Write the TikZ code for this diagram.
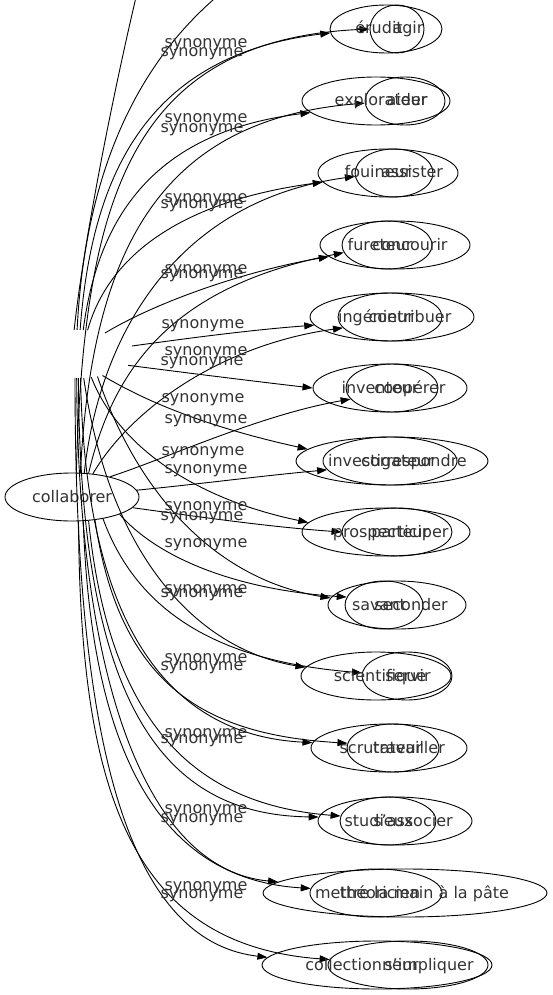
\documentclass[tikz,border=0pt]{standalone}
\usepackage{fontspec}
\setmainfont{DejaVu Sans}
\usetikzlibrary{shapes.geometric,arrows.meta}
\begin{document}
\begin{tikzpicture}[x=1pt,y=-1pt,
  ell/.style={ellipse,draw,line width=0.9pt,inner sep=0pt,minimum height=48pt},
  wtxt/.style={inner sep=0pt,anchor=base,text=black!80,font=\fontsize{16}{19}\selectfont},
  syn/.style={wtxt},
  edge/.style={line width=0.9pt,-{Triangle[length=10pt,width=7pt]}},
  plain/.style={line width=0.9pt}]
\useasboundingbox (0,0) rectangle (553,995);
\clip (0,0) rectangle (553,995);

% source nodes
\node[ell,minimum width=134pt,text=black!80,font=\fontsize{16}{19}\selectfont] (col) at (72,497) {collaborer};
\node[ellipse,inner sep=0pt,minimum width=120pt,minimum height=48pt] (hub) at (75,354) {};
\coordinate (up1) at (145,-40);
\coordinate (up2) at (260,-35);

% outer ellipses
\node[ell,minimum width=112pt] (r1o) at (386,29) {};
\node[ell,minimum width=148pt] (r2o) at (376,101) {};
\node[ell,minimum width=140pt] (r3o) at (388,173) {};
\node[ell,minimum width=150pt] (r4o) at (395,245) {};
\node[ell,minimum width=164pt] (r5o) at (392,317) {};
\node[ell,minimum width=154pt] (r6o) at (390,388) {};
\node[ell,minimum width=192pt] (r7o) at (392,461) {};
\node[ell,minimum width=168pt] (r8o) at (386,532) {};
\node[ell,minimum width=138pt] (r9o) at (397,605) {};
\node[ell,minimum width=150pt] (r10o) at (376,676) {};
\node[ell,minimum width=156pt] (r11o) at (389,748) {};
\node[ell,minimum width=154pt] (r12o) at (395,821) {};
\node[ell,minimum width=284pt] (r13o) at (405,893) {};
\node[ell,minimum width=230pt] (r14o) at (377,965) {};
% inner ellipses
\node[ell,minimum width=54pt] (r1i) at (397,29) {};
\node[ell,minimum width=80pt] (r2i) at (405,101) {};
\node[ell,minimum width=78pt] (r3i) at (394,173) {};
\node[ell,minimum width=90pt] (r4i) at (387,245) {};
\node[ell,minimum width=104pt] (r5i) at (390,317) {};
\node[ell,minimum width=92pt] (r6i) at (392,388) {};
\node[ell,minimum width=134pt] (r7i) at (390,461) {};
\node[ell,minimum width=110pt] (r8i) at (397,532) {};
\node[ell,minimum width=78pt] (r9i) at (384,605) {};
\node[ell,minimum width=90pt] (r10i) at (407,676) {};
\node[ell,minimum width=92pt] (r11i) at (393,748) {};
\node[ell,minimum width=96pt] (r12i) at (388,821) {};
\node[ell,minimum width=132pt] (r13i) at (376,893) {};
\node[ell,minimum width=160pt] (r14i) at (408,965) {};

% edges from the hidden hub
\draw[plain] (hub.92) .. controls (85,230) and (120,60) .. (up1);
\draw[plain] (hub.85) .. controls (85,170) and (140,40) .. (up2);
\draw[edge] (hub.78) .. controls (92,170) and (150,55) .. (r1o.184);
\draw[edge] (hub.71) .. controls (100,200) and (170,130) .. (r2o.190);
\draw[edge] (hub.62) .. controls (110,250) and (190,200) .. (r3o.188);
\draw[edge] (hub.35) .. controls (160,300) and (250,270) .. (r4o.190);
\draw[edge] (hub.8) .. controls (190,338) and (250,330) .. (r5o.186);
\draw[edge] (hub.348) .. controls (180,372) and (260,382) .. (r6o.180);
\draw[edge] (hub.322) .. controls (160,410) and (230,432) .. (r7o.172);
\draw[edge] (hub.305) .. controls (120,450) and (200,500) .. (r8o.173);
\draw[edge] (hub.315) .. controls (140,500) and (220,580) .. (r9o.174);
\draw[edge] (hub.290) .. controls (110,560) and (200,650) .. (r10o.173);
\draw[edge] (hub.283) .. controls (85,620) and (165,735) .. (r11o.176);
\draw[edge] (hub.278) .. controls (80,700) and (160,815) .. (r12o.177);
\draw[edge] (hub.274) .. controls (78,690) and (150,870) .. (r13o.175);
\draw[edge] (hub.270) .. controls (75,720) and (120,940) .. (r14o.176);

% edges from collaborer
\draw[edge] (col.80) .. controls (84,200) and (130,40) .. (r1i.180);
\draw[edge] (col.71) .. controls (92,250) and (160,120) .. (r2i.183);
\draw[edge] (col.63) .. controls (100,330) and (180,200) .. (r3i.185);
\draw[edge] (col.55) .. controls (115,360) and (180,285) .. (r4i.190);
\draw[edge] (col.48) .. controls (130,410) and (220,345) .. (r5i.193);
\draw[edge] (col.28) .. controls (170,457) and (260,415) .. (r6i.195);
\draw[edge] (col.6) .. controls (200,484) and (260,476) .. (r7i.188);
\draw[edge] (col.350) .. controls (200,517) and (270,527) .. (r8i.180);
\draw[edge] (col.340) .. controls (160,560) and (240,590) .. (r9i.168);
\draw[edge] (col.325) .. controls (140,620) and (230,662) .. (r10i.176);
\draw[edge] (col.315) .. controls (120,690) and (210,735) .. (r11i.174);
\draw[edge] (col.305) .. controls (110,730) and (200,805) .. (r12i.174);
\draw[edge] (col.295) .. controls (92,770) and (170,880) .. (r13i.176);
\draw[edge] (col.285) .. controls (80,790) and (130,945) .. (r14i.176);

% edge labels
\node[syn] (l1) at (206,48) {synonyme};
\node[syn] (l2) at (202,57) {synonyme};
\node[syn] (l3) at (206,123) {synonyme};
\node[syn] (l4) at (202,133) {synonyme};
\node[syn] (l5) at (206,202) {synonyme};
\node[syn] (l6) at (202,208) {synonyme};
\node[syn] (l7) at (206,273) {synonyme};
\node[syn] (l8) at (202,278) {synonyme};
\node[syn] (l9) at (203,328) {synonyme};
\node[syn] (l10) at (206,355) {synonyme};
\node[syn] (l11) at (202,365) {synonyme};
\node[syn] (l12) at (203,402) {synonyme};
\node[syn] (l13) at (206,423) {synonyme};
\node[syn] (l14) at (203,455) {synonyme};
\node[syn] (l15) at (206,473) {synonyme};
\node[syn] (l16) at (206,510) {synonyme};
\node[syn] (l17) at (202,520) {synonyme};
\node[syn] (l18) at (206,547) {synonyme};
\node[syn] (l19) at (206,593) {synonyme};
\node[syn] (l20) at (202,597) {synonyme};
\node[syn] (l21) at (206,662) {synonyme};
\node[syn] (l22) at (202,670) {synonyme};
\node[syn] (l23) at (206,737) {synonyme};
\node[syn] (l24) at (202,743) {synonyme};
\node[syn] (l25) at (206,813) {synonyme};
\node[syn] (l26) at (202,822) {synonyme};
\node[syn] (l27) at (206,890) {synonyme};
\node[syn] (l28) at (202,898) {synonyme};

% target texts, first set
\node[wtxt] (b1) at (379,34) {érudit};
\node[wtxt] (b2) at (381,106) {explorateur};
\node[wtxt] (b3) at (378,178) {fouineur};
\node[wtxt] (b4) at (380,250) {fureteur};
\node[wtxt] (b5) at (376,322) {ingénieur};
\node[wtxt] (b6) at (380,393) {inventeur};
\node[wtxt] (b7) at (381,466) {investigateur};
\node[wtxt] (b8) at (381,537) {prospecteur};
\node[wtxt] (b9) at (379,610) {savant};
\node[wtxt] (b10) at (380,681) {scientifique};
\node[wtxt] (b11) at (381,753) {scrutateur};
\node[wtxt] (b12) at (379,826) {studieux};
\node[wtxt] (b13) at (380,898) {théoricien};
\node[wtxt] (b14) at (362,970) {collectionneur};
% target texts, second set
\node[wtxt] (a1) at (408,34) {agir};
\node[wtxt] (a2) at (407,106) {aider};
\node[wtxt] (a3) at (412,178) {assister};
\node[wtxt] (a4) at (410,250) {concourir};
\node[wtxt] (a5) at (410,322) {contribuer};
\node[wtxt] (a6) at (410,393) {coopérer};
\node[wtxt] (a7) at (414,466) {correspondre};
\node[wtxt] (a8) at (410,537) {participer};
\node[wtxt] (a9) at (411,610) {seconder};
\node[wtxt] (a10) at (408,681) {servir};
\node[wtxt] (a11) at (409,753) {travailler};
\node[wtxt] (a12) at (413,826) {s'associer};
\node[wtxt] (a13) at (412,898) {mettre la main à la pâte};
\node[wtxt] (a14) at (429,970) {s'impliquer};
\end{tikzpicture}
\end{document}
